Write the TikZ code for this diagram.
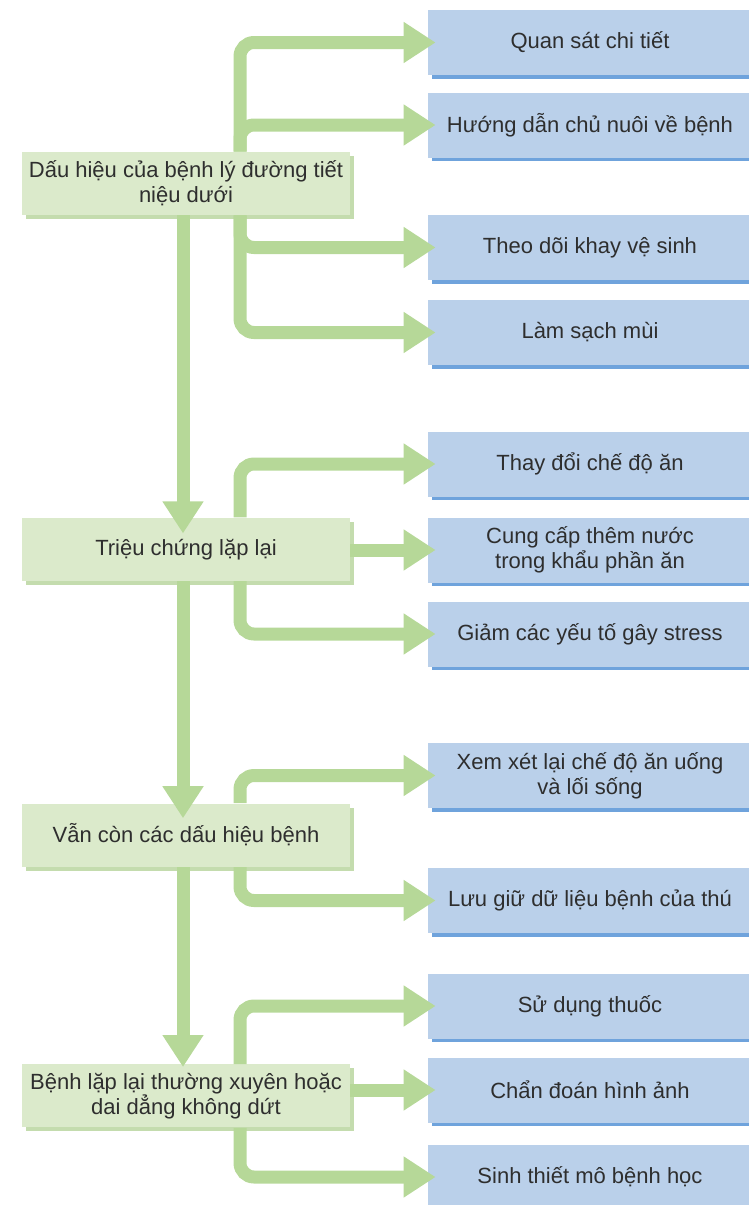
\documentclass[tikz,border=0pt]{standalone}
\usepackage{fontspec}
\setmainfont{Liberation Sans}
\usetikzlibrary{arrows.meta,positioning,shadows}

\definecolor{stagefill}{HTML}{DBEACB}
\definecolor{stageshade}{HTML}{C4DCAE}
\definecolor{actionfill}{HTML}{BAD0EA}
\definecolor{actionshade}{HTML}{6FA3DC}
\definecolor{arrowgreen}{HTML}{B6D898}
\definecolor{inktext}{HTML}{2E2E2E}

\begin{document}
\begin{tikzpicture}[
    x=0.5pt, y=-0.5pt,
    % Define styles for the two kinds of boxes
    stage/.style={
        rectangle,
        fill=stagefill,
        text=inktext,
        align=center,
        inner sep=0pt,
        minimum width=164pt,
        minimum height=31.5pt,
        font=\fontsize{11}{12.5}\selectfont,
        drop shadow={shadow xshift=2pt, shadow yshift=-2pt, fill=stageshade, opacity=1}
    },
    action/.style={
        rectangle,
        fill=actionfill,
        text=inktext,
        align=center,
        inner sep=0pt,
        minimum width=162pt,
        minimum height=32.5pt,
        font=\fontsize{11}{12.5}\selectfont,
        drop shadow={shadow xshift=2pt, shadow yshift=-1.75pt, fill=actionshade, opacity=1}
    },
    flow/.style={
        draw=arrowgreen,
        line width=6.5pt,
        -{Triangle[length=16pt, width=19.5pt]}
    },
    branch/.style={
        flow,
        rounded corners=7pt,
        shorten >=-4pt
    }
]
\useasboundingbox (0,0) rectangle (749,1205);

% Place the action boxes on the right
\node[action] (watch)   at (590,42.5)  {Quan sát chi tiết};
\node[action] (advise)  at (590,125)   {Hướng dẫn chủ nuôi về bệnh};
\node[action] (litter)  at (590,247.5) {Theo dõi khay vệ sinh};
\node[action] (odour)   at (590,332.5) {Làm sạch mùi};
\node[action] (diet)    at (590,464)   {Thay đổi chế độ ăn};
\node[action] (water)   at (590,550)   {Cung cấp thêm nước\\trong khẩu phần ăn};
\node[action] (stress)  at (590,634)   {Giảm các yếu tố gây stress};
\node[action] (review)  at (590,775.5) {Xem xét lại chế độ ăn uống\\và lối sống};
\node[action] (record)  at (590,900.5) {Lưu giữ dữ liệu bệnh của thú};
\node[action] (drugs)   at (590,1006)  {Sử dụng thuốc};
\node[action] (imaging) at (590,1090)  {Chẩn đoán hình ảnh};
\node[action] (biopsy)  at (590,1177)  {Sinh thiết mô bệnh học};

% Place the stages on the left
\node[stage] (sign) at (186,183.5) {Dấu hiệu của bệnh lý đường tiết\\niệu dưới};
\node[stage, below=151pt of sign] (relapse) {Triệu chứng lặp lại};
\node[stage, below=111pt of relapse] (persist) {Vẫn còn các dấu hiệu bệnh};
\node[stage, below=98.5pt of persist] (chronic) {Bệnh lặp lại thường xuyên hoặc\\dai dẳng không dứt};

\coordinate (trunk) at (240,0);
\coordinate (spine) at (183,0);

% Branches from each stage
\draw[branch] (sign.north -| trunk) |- (watch.west);
\draw[branch] (sign.north -| trunk) |- (advise.west);
\draw[branch] (sign.south -| trunk) |- (litter.west);
\draw[branch] (sign.south -| trunk) |- (odour.west);

\draw[branch] (relapse.north -| trunk) |- (diet.west);
\draw[branch] (relapse.east |- water.west) -- (water.west);
\draw[branch] (relapse.south -| trunk) |- (stress.west);

\draw[branch] (persist.north -| trunk) |- (review.west);
\draw[branch] (persist.south -| trunk) |- (record.west);

\draw[branch] (chronic.north -| trunk) |- (drugs.west);
\draw[branch] (chronic.east |- imaging.west) -- (imaging.west);
\draw[branch] (chronic.south -| trunk) |- (biopsy.west);

% Main line down the stages
\draw[flow, shorten >=-8pt] (sign.south -| spine) -- (relapse.north -| spine);
\draw[flow, shorten >=-7.5pt] (relapse.south -| spine) -- (persist.north -| spine);
\draw[flow, shorten >=-1.5pt] (persist.south -| spine) -- (chronic.north -| spine);

\end{tikzpicture}
\end{document}
